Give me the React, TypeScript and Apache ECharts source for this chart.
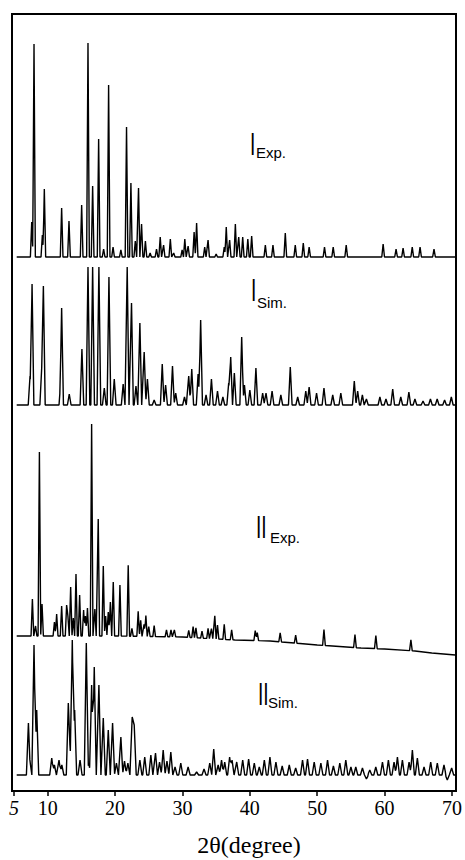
import React, { useEffect, useRef } from "react";
import * as echarts from "echarts";

// ---- data (2θ in degrees, intensity in arbitrary units) ----
const xTicks = [5, 10, 20, 30, 40, 50, 60, 70];

const iExpPeaks: [number, number][] = [
  [7.63, 35], [7.97, 213], [9.21, 22], [9.5, 68], [12.07, 49], [13.16, 36], [15.04, 52],
  [15.98, 214], [16.67, 71], [17.56, 118], [18.3, 8], [19.04, 172], [19.7, 10], [20.86, 7],
  [21.7, 130], [22.35, 74], [23.0, 16], [23.48, 69], [23.93, 33], [24.5, 16], [25.2, 4],
  [26.15, 8], [26.7, 20], [27.2, 12], [28.2, 18], [28.7, 4], [29.95, 7], [30.35, 18],
  [30.84, 11], [31.73, 25], [32.1, 34], [33.3, 10], [33.8, 17], [35.0, 3], [36.2, 10],
  [36.5, 30], [37.0, 17], [37.85, 33], [38.35, 20], [38.94, 20], [39.7, 18], [40.27, 21],
  [42.3, 12], [43.43, 12], [45.26, 24], [46.74, 12], [47.93, 14], [48.8, 10], [51.08, 10],
  [52.37, 10], [54.3, 12], [59.78, 13], [61.7, 8], [62.74, 9], [64.1, 10], [65.26, 10],
  [67.33, 8],
];

const iSimPeaks: [number, number][] = [
  [7.38, 29], [7.68, 121], [9.11, 37], [9.36, 119], [11.95, 25], [12.07, 97], [13.2, 11],
  [15.08, 56], [15.98, 138], [16.67, 138], [17.6, 138], [18.4, 17], [19.09, 128], [19.88, 26],
  [21.2, 21], [21.8, 138], [22.44, 102], [23.1, 19], [23.68, 82], [24.32, 53], [24.8, 26],
  [25.8, 5], [27.0, 41], [27.5, 20], [28.52, 39], [29.0, 12], [30.3, 8], [30.93, 29],
  [31.38, 36], [32.32, 31], [32.7, 85], [33.5, 10], [34.3, 26], [35.2, 14], [36.0, 8],
  [36.86, 22], [37.16, 48], [37.7, 32], [38.79, 68], [39.2, 20], [40.0, 15], [40.9, 37],
  [41.9, 12], [42.4, 12], [43.3, 14], [44.6, 10], [46.0, 38], [47.1, 8], [48.3, 14],
  [48.8, 18], [49.9, 12], [51.0, 17], [52.3, 10], [53.5, 12], [55.5, 24], [56.0, 14],
  [56.7, 10], [57.3, 6], [59.3, 8], [60.2, 6], [61.2, 16], [62.4, 8], [63.6, 13], [64.5, 6],
  [65.7, 4], [66.8, 6], [67.8, 6], [68.9, 5], [69.9, 8],
];

const iiExpPeaks: [number, number][] = [
  [7.73, 37], [8.2, 10], [8.77, 184], [9.16, 32], [11.0, 14], [11.33, 22], [12.07, 30],
  [12.81, 31], [13.0, 20], [13.41, 49], [13.8, 18], [14.2, 62], [14.74, 41], [15.33, 26],
  [15.6, 20], [15.9, 28], [16.52, 212], [17.0, 27], [17.5, 117], [18.25, 70], [18.6, 20],
  [18.99, 24], [19.3, 34], [19.73, 54], [20.72, 51], [21.95, 71], [22.5, 8], [23.43, 25],
  [23.8, 16], [24.3, 12], [24.57, 21], [25.0, 10], [25.8, 11], [27.63, 7], [28.3, 7],
  [28.8, 7], [30.93, 7], [31.58, 11], [32.0, 10], [32.9, 7], [33.8, 10], [34.3, 10],
  [34.8, 23], [35.2, 14], [36.2, 15], [37.3, 10], [40.8, 10], [41.1, 8], [44.5, 9],
  [46.8, 8], [51.0, 16], [55.6, 13], [58.7, 13], [63.9, 11],
];

// sloping background of the experimental pattern II
const iiExpBackground: [number, number][] = [
  [5, 0], [20, 0], [30, -1], [37.8, -4], [43, -5], [50, -9], [56.5, -12], [60, -13],
  [64.5, -15], [67, -17], [70.5, -19],
];

const iiSimPeaks: [number, number][] = [
  [7.14, 52], [7.35, 15], [7.97, 130], [8.37, 65], [10.6, 17], [11.0, 10], [11.68, 15],
  [12.1, 10], [13.06, 72], [13.3, 30], [13.65, 135], [14.0, 65], [14.8, 15], [15.73, 132],
  [16.1, 12], [16.52, 90], [16.91, 108], [17.6, 90], [18.25, 57], [18.99, 45], [19.63, 52],
  [20.2, 12], [20.86, 38], [21.4, 14], [21.9, 12], [22.54, 58], [22.84, 50], [23.68, 15],
  [24.4, 18], [25.31, 20], [26.0, 22], [26.6, 13], [27.14, 25], [27.7, 14], [28.27, 23],
  [28.9, 8], [29.75, 12], [30.84, 8], [32.1, 3], [33.2, 6], [34.05, 12], [34.64, 26],
  [35.3, 10], [35.8, 15], [36.27, 13], [37.0, 18], [37.36, 15], [38.05, 13], [38.94, 15],
  [39.82, 16], [40.66, 12], [41.4, 8], [42.15, 15], [42.98, 18], [43.87, 13], [44.8, 9],
  [45.85, 10], [46.8, 7], [47.82, 15], [48.56, 16], [49.55, 13], [50.54, 12], [51.53, 15],
  [52.4, 9], [53.35, 12], [54.24, 15], [55.0, 8], [55.72, 8], [56.71, 7], [57.3, -4],
  [57.8, 5], [58.69, 8], [59.68, 13], [60.56, 15], [61.4, 13], [61.9, 18], [62.64, 15],
  [63.63, 13], [64.12, 25], [64.86, 17], [65.85, 8], [66.84, 13], [67.82, 12], [68.81, 10],
  [69.3, -5], [69.95, 7],
];

const labelMain = ["I", "I", "II", "II"];
const labelSub = ["Exp.", "Sim.", "Exp.", "Sim."];
const axisTitle = "2θ(degree)";

// ---- layout ----
const W = 465;
const H = 860;
const GRID = { left: 14, right: 9, top: 14, bottom: 69 };
const Y_MAX = H - GRID.top - GRID.bottom; // 1 unit = 1 px
const offsets = [534, 386, 155, 16]; // vertical stacking of the four patterns
const halfWidths = [0.2, 0.27, 0.2, 0.3];
const labelPos = [
  { mx: 250, my: 144, sx: 256, sy: 152 },
  { mx: 251, my: 290, sx: 257, sy: 302 },
  { mx: 256, my: 527, sx: 270, sy: 537 },
  { mx: 258, my: 694, sx: 268, sy: 702 },
];
const serif = '"Liberation Serif", "Times New Roman", serif';
const sans = '"Liberation Sans", Arial, sans-serif';

function bgAt(bg: [number, number][] | null, x: number): number {
  if (!bg) return 0;
  if (x <= bg[0][0]) return bg[0][1];
  for (let i = 1; i < bg.length; i++) {
    if (x <= bg[i][0]) {
      const [x0, y0] = bg[i - 1];
      const [x1, y1] = bg[i];
      return y0 + ((y1 - y0) * (x - x0)) / (x1 - x0);
    }
  }
  return bg[bg.length - 1][1];
}

// draw every peak as a narrow triangle; overlapping triangles are merged by their envelope
function profile(
  peaks: [number, number][],
  hw: number,
  offset: number,
  bg: [number, number][] | null,
  start = 5.4,
  end = 70.5
): [number, number][] {
  const xs: number[] = [start, end];
  if (bg) bg.forEach(([x]) => { if (x > start && x < end) xs.push(x); });
  peaks.forEach(([p]) => xs.push(p - hw, p, p + hw));
  xs.sort((a, b) => a - b);
  return xs.map((x) => {
    let pos = 0;
    let neg = 0;
    for (const [p, h] of peaks) {
      const d = Math.abs(x - p);
      if (d < hw) {
        const v = h * (1 - d / hw);
        if (v > pos) pos = v;
        if (v < neg) neg = v;
      }
    }
    return [x, offset + bgAt(bg, x) + pos + neg];
  });
}

export default function App() {
  const ref = useRef<HTMLDivElement>(null);

  useEffect(() => {
    if (!ref.current) return;
    const chart = echarts.init(ref.current, null, { renderer: "svg" });

    const patterns = [
      profile(iExpPeaks, halfWidths[0], offsets[0], null),
      profile(iSimPeaks, halfWidths[1], offsets[1], null),
      profile(iiExpPeaks, halfWidths[2], offsets[2], iiExpBackground),
      profile(iiSimPeaks, halfWidths[3], offsets[3], null),
    ];
    const names = ["I Exp.", "I Sim.", "II Exp.", "II Sim."];

    const graphic: any[] = [
      {
        type: "rect",
        z: 100,
        shape: { x: 12, y: 14, width: 444, height: H - GRID.bottom - 14 },
        style: { fill: "none", stroke: "#000", lineWidth: 2 },
      },
      {
        type: "text",
        x: 249,
        y: 845,
        style: {
          text: axisTitle,
          font: `24px ${serif}`,
          fill: "#000",
          textAlign: "center",
          textVerticalAlign: "middle",
        },
      },
    ];
    labelMain.forEach((m, i) => {
      const p = labelPos[i];
      graphic.push({
        type: "text",
        x: p.mx,
        y: p.my,
        scaleX: 0.6,
        style: {
          text: m,
          font: `32px ${sans}`,
          fill: "#000",
          textAlign: "left",
          textVerticalAlign: "middle",
        },
      });
      graphic.push({
        type: "text",
        x: p.sx,
        y: p.sy,
        style: {
          text: labelSub[i],
          font: `15px ${sans}`,
          fill: "#000",
          textAlign: "left",
          textVerticalAlign: "middle",
        },
      });
    });

    chart.setOption({
      animation: false,
      backgroundColor: "#fff",
      grid: { ...GRID },
      xAxis: {
        type: "value",
        min: 5,
        max: 70.5,
        axisLine: { show: true, lineStyle: { color: "#000", width: 2 } },
        axisTick: {
          show: true,
          inside: false,
          length: 5,
          customValues: xTicks,
          lineStyle: { color: "#000", width: 1.5 },
        },
        axisLabel: {
          customValues: xTicks,
          margin: 7,
          color: "#000",
          fontFamily: serif,
          fontSize: 20,
          formatter: (v: number) => (v === 5 ? "{i|5}" : String(v)),
          rich: { i: { fontStyle: "italic", fontFamily: serif, fontSize: 20, color: "#000" } },
        },
        splitLine: { show: false },
      },
      yAxis: { type: "value", min: 0, max: Y_MAX, show: false },
      graphic,
      series: patterns.map((data, i) => ({
        name: names[i],
        type: "line",
        data,
        showSymbol: false,
        symbol: "none",
        lineStyle: { color: "#000", width: 1.4 },
        silent: true,
      })),
    });

    return () => chart.dispose();
  }, []);

  return (
    <div
      ref={ref}
      style={{ position: "fixed", left: 0, top: 0, width: W, height: H, background: "#fff" }}
    />
  );
}
